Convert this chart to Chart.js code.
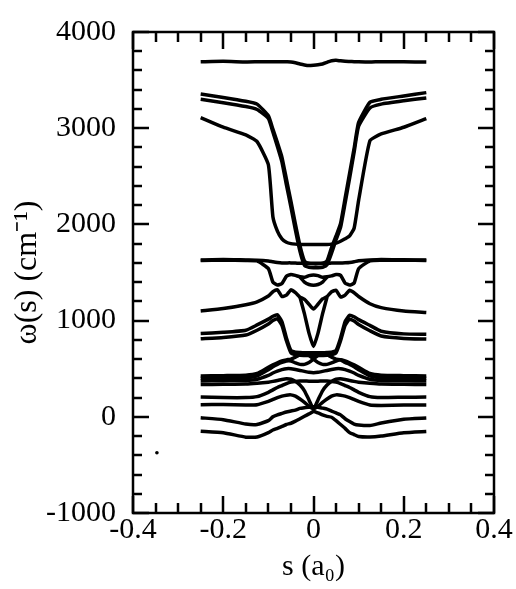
<!DOCTYPE html>
<html>
<head>
<meta charset="utf-8">
<script src="https://cdn.jsdelivr.net/npm/chart.js@4.4.1/dist/chart.umd.min.js"></script>
<style>
  body { margin: 0; background: #fff; }
  #wrap { width: 516px; height: 589px; }
</style>
</head>
<body>
<div id="wrap"><canvas id="chart"></canvas></div>
<script>
// reaction coordinate s (a0), shared by all curves
const sVals = [-0.25, -0.2, -0.15, -0.125, -0.1, -0.09, -0.08, -0.07, -0.06, -0.05, -0.04, -0.03, -0.02, -0.01, 0,
               0.01, 0.02, 0.03, 0.04, 0.05, 0.06, 0.07, 0.08, 0.09, 0.1, 0.125, 0.15, 0.2, 0.25];

// frequencies w(s) in cm-1
const modeT  = [3690, 3695, 3688, 3690, 3692, 3690, 3690, 3692, 3690, 3688, 3680, 3668, 3658, 3652, 3655, 3660, 3668, 3685, 3702, 3706, 3700, 3696, 3694, 3692, 3690, 3688, 3692, 3690, 3688];
const modeU1 = [3355, 3320, 3280, 3250, 3130, 2990, 2850, 2700, 2470, 2240, 2000, 1780, 1620, 1595, 1590, 1590, 1595, 1620, 1760, 1880, 2010, 2270, 2530, 2790, 3060, 3270, 3300, 3335, 3370];
const modeU2 = [3300, 3265, 3225, 3195, 3100, 2960, 2810, 2650, 2410, 2180, 1940, 1720, 1575, 1555, 1550, 1550, 1555, 1580, 1700, 1840, 1970, 2220, 2480, 2750, 3020, 3210, 3250, 3285, 3315];
const modeU3 = [3110, 3010, 2930, 2860, 2620, 2080, 1930, 1850, 1815, 1800, 1795, 1792, 1790, 1790, 1790, 1790, 1790, 1790, 1795, 1805, 1825, 1850, 1880, 1960, 2250, 2870, 2940, 3010, 3100];
const modeM1 = [1630, 1635, 1630, 1628, 1620, 1612, 1605, 1600, 1600, 1600, 1598, 1595, 1595, 1595, 1595, 1595, 1595, 1595, 1598, 1600, 1600, 1602, 1605, 1612, 1622, 1630, 1635, 1632, 1630];
const modeM2 = [1625, 1628, 1625, 1620, 1540, 1400, 1370, 1385, 1460, 1480, 1470, 1455, 1450, 1468, 1475, 1468, 1450, 1455, 1465, 1478, 1470, 1390, 1370, 1390, 1540, 1622, 1628, 1628, 1625];
const modeM3 = [null, null, null, null, null, null, null, null, null, null, null, 1452, 1400, 1375, 1368, 1375, 1400, 1452, null, null, null, null, null, null, null, null, null, null, null];
const modeZ  = [1100, 1125, 1165, 1195, 1255, 1300, 1320, 1250, 1265, 1320, 1290, 1245, 1220, 1170, 1120, 1170, 1225, 1250, 1300, 1315, 1245, 1265, 1315, 1290, 1250, 1175, 1135, 1100, 1085];
const modeI  = [null, null, null, null, null, null, null, null, null, null, null, 1245, 1070, 870, 730, 870, 1070, 1245, null, null, null, null, null, null, null, null, null, null, null];
const modeD1 = [865, 878, 900, 955, 1015, 1045, 1060, 990, 820, 690, 672, 668, 665, 665, 665, 665, 665, 668, 672, 690, 820, 990, 1055, 1040, 1010, 950, 890, 862, 858];
const modeD2 = [812, 825, 850, 900, 965, 1000, 1020, 950, 790, 665, 645, 640, 638, 636, 635, 636, 638, 640, 645, 665, 790, 950, 1015, 995, 960, 895, 840, 815, 808];
const modeB1 = [425, 428, 432, 450, 515, 540, 562, 580, 592, 600, 620, 645, 665, 640, 600, 565, 545, 545, 560, 580, 592, 580, 562, 540, 515, 450, 432, 428, 425];
const modeB2 = [400, 402, 405, 425, 490, 520, 545, 565, 580, 580, 560, 545, 545, 565, 600, 640, 665, 645, 620, 600, 592, 565, 545, 520, 490, 425, 405, 402, 400];
const modeB3 = [372, 376, 378, 390, 430, 455, 475, 490, 500, 500, 492, 482, 472, 462, 458, 462, 472, 482, 492, 500, 500, 490, 475, 455, 430, 390, 378, 374, 372];
const modeB4 = [335, 338, 340, 348, 360, 368, 378, 388, 395, 390, 368, 330, 270, 175, 80, 175, 270, 330, 368, 390, 395, 388, 378, 368, 360, 348, 340, 338, 335];
const modeP1 = [205, 200, 200, 210, 255, 280, 305, 325, 345, 360, 368, 372, 372, 370, 370, 370, 372, 372, 368, 360, 345, 325, 305, 280, 255, 210, 200, 203, 205];
const modeP2 = [125, 128, 122, 125, 160, 180, 200, 215, 225, 228, 215, 185, 150, 110, 85, 110, 150, 185, 215, 228, 225, 215, 200, 180, 160, 122, 118, 122, 122];
const modeL2 = [-10, -30, -75, -80, -40, 0, 20, 35, 50, 60, 70, 88, 95, 100, 105, 100, 90, 80, 60, 40, 20, -20, -50, -75, -85, -90, -65, -25, -12];
const modeL1 = [-150, -165, -212, -210, -165, -137, -120, -100, -80, -67, -45, -20, 5, 30, 55, 40, 20, 5, -5, -40, -80, -120, -165, -185, -205, -210, -200, -165, -152];

// stray speck on the scan
const speckS = [-0.347];
const speckW = [-373];

const allModes = [modeT, modeU1, modeU2, modeU3, modeM1, modeM2, modeM3, modeZ, modeI,
                  modeD1, modeD2, modeB1, modeB2, modeB3, modeB4, modeP1, modeP2, modeL2, modeL1];

const xMinorStep = 0.05;
const yMinorStep = 200;

const serif = { family: "'Liberation Serif', 'Times New Roman', serif", size: 30 };
const serifTitle = { family: "'Liberation Serif', 'Times New Roman', serif", size: 32 };

// frame with inward ticks on all four sides
const frameTicks = {
    id: 'frameTicks',
    afterDatasetsDraw(chart) {
        const { ctx, chartArea: a, scales: { x, y } } = chart;
        ctx.save();
        ctx.strokeStyle = '#000';
        ctx.lineWidth = 2.5;
        ctx.strokeRect(a.left, a.top, a.right - a.left, a.bottom - a.top);
        ctx.beginPath();
        for (let v = y.min; v <= y.max; v += yMinorStep) {
            const p = Math.round(y.getPixelForValue(v));
            const len = v % 1000 === 0 ? 16 : 9;
            ctx.moveTo(a.left, p); ctx.lineTo(a.left + len, p);
            ctx.moveTo(a.right, p); ctx.lineTo(a.right - len, p);
        }
        for (let k = -8; k <= 8; k++) {
            const p = Math.round(x.getPixelForValue(k * xMinorStep));
            const len = k % 4 === 0 ? 17 : 10;
            ctx.moveTo(p, a.bottom); ctx.lineTo(p, a.bottom - len);
            ctx.moveTo(p, a.top); ctx.lineTo(p, a.top + len);
        }
        ctx.stroke();
        ctx.restore();
    }
};

const datasets = allModes.map(m => ({
    data: sVals.map((s, i) => ({ x: s, y: m[i] })),
    borderColor: '#000',
    borderWidth: 3.5,
    pointRadius: 0,
    tension: 0.15,
    spanGaps: false,
    fill: false
}));
datasets.push({
    data: speckS.map((s, i) => ({ x: s, y: speckW[i] })),
    showLine: false,
    pointRadius: 1.8,
    pointBackgroundColor: '#000',
    pointBorderWidth: 0
});

new Chart(document.getElementById('chart'), {
    type: 'line',
    data: { datasets },
    options: {
        responsive: true,
        maintainAspectRatio: false,
        animation: false,
        layout: { padding: { top: 32, right: 22, bottom: 0, left: 0 } },
        plugins: { legend: { display: false }, tooltip: { enabled: false } },
        scales: {
            x: {
                type: 'linear',
                min: -0.4,
                max: 0.4,
                ticks: { stepSize: 0.2, padding: -9, color: '#000', font: serif,
                         callback: v => String(Math.round(v * 10) / 10) },
                grid: { display: false },
                border: { display: false },
                title: { display: true, text: 's (a₀)', color: '#000', font: serif, padding: { top: 0, bottom: 4 } },
                afterFit(s) { s.height = 76; }
            },
            y: {
                min: -1000,
                max: 4000,
                ticks: { stepSize: 1000, padding: 9, color: '#000', font: serif,
                         callback: v => String(v) },
                grid: { display: false },
                border: { display: false },
                title: { display: true, text: 'ω(s) (cm⁻¹)', color: '#000', font: serifTitle, padding: { top: 8, bottom: 0 } },
                afterFit(s) { s.width = 133; }
            }
        }
    },
    plugins: [frameTicks]
});
</script>
</body>
</html>
